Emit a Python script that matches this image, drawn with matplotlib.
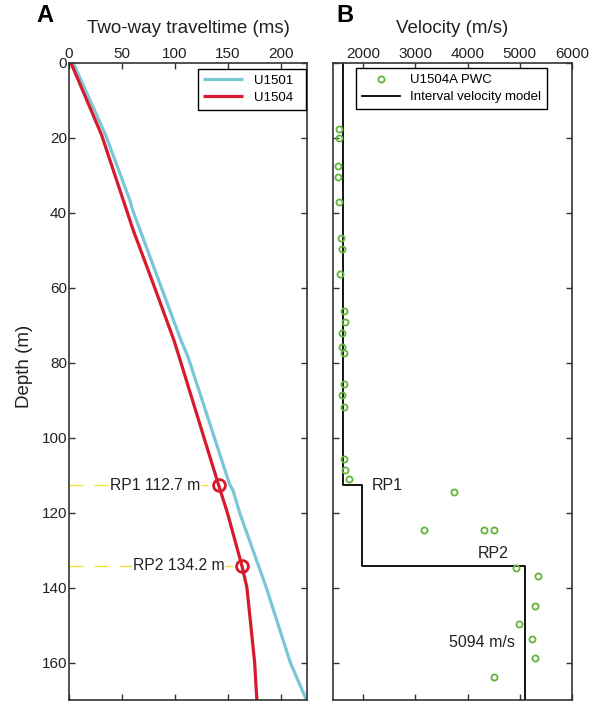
import matplotlib
matplotlib.use("Agg")
import matplotlib.pyplot as plt

plt.rcParams['font.family'] = ['Liberation Sans', 'DejaVu Sans']

# --- Two-way traveltime vs depth -------------------------------------------
u1501_depth = [0, 19.2, 36.6, 39.2, 73.9, 78.4, 112.5, 114.0, 120.0, 140.0, 160.0, 170.0]
u1501_twt = [4.0, 34.6, 57.5, 60.1, 105.7, 112.5, 151.9, 155.0, 161.3, 186.5, 209.2, 224.5]

u1504_depth = [0, 19.2, 44.6, 58.8, 73.9, 78.4, 112.7, 120.0, 134.2, 140.0, 160.0, 170.0]
u1504_twt = [1.9, 30.8, 60.7, 79.5, 99.1, 104.1, 141.5, 149.7, 163.5, 168.2, 175.5, 177.6]

# Reflection points
rp_names = ["RP1", "RP2"]
rp_depth = [112.7, 134.2]
rp_twt = [141.5, 163.5]
rp_label_twt = [38.7, 60.1]

# --- Velocity ----------------------------------------------------------------
pwc_depth = [17.5, 20.0, 27.4, 30.4, 37.0, 46.6, 49.6, 56.2, 66.2, 69.1, 72.0, 75.8,
             77.3, 85.7, 88.6, 91.8, 105.6, 108.5, 111.1, 114.5, 124.7, 124.7, 124.7,
             134.7, 136.9, 145.0, 149.8, 153.6, 158.8, 163.8]
pwc_vel = [1540, 1540, 1521, 1521, 1540, 1578, 1603, 1559, 1630, 1655, 1603, 1603,
           1630, 1630, 1603, 1630, 1630, 1655, 1725, 3735, 3167, 4315, 4501,
           4937, 5348, 5300, 4981, 5234, 5300, 4501]

layer_top = [0, 112.7, 134.2]
layer_bottom = [112.7, 134.2, 170]
layer_vel = [1622, 1975, 5094]

twt_ticks = [0, 50, 100, 150, 200]
vel_ticks = [2000, 3000, 4000, 5000, 6000]
depth_ticks = [0, 20, 40, 60, 80, 100, 120, 140, 160]

cyan = "#79c7d6"
red = "#d71a2c"
green = "#62b43a"
yellow = "#f0e43c"
spine_c = "#333333"
text_c = "#222222"

fig = plt.figure(figsize=(5.9, 7.02), dpi=100)
axA = fig.add_axes([69 / 590, 1 - 700 / 702, 238 / 590, 637 / 702])
axB = fig.add_axes([333 / 590, 1 - 700 / 702, 239 / 590, 637 / 702])


def style(ax):
    for s in ax.spines.values():
        s.set_color(spine_c)
        s.set_linewidth(1.2)
    ax.tick_params(direction='in', length=4.5, width=1, color=spine_c,
                   top=True, bottom=True, left=True, right=True,
                   labeltop=True, labelbottom=False, labelsize=11, pad=1.5,
                   labelcolor=text_c)
    ax.set_ylim(170, 0)
    ax.set_yticks(depth_ticks)
    ax.xaxis.set_label_position('top')


# Panel A
style(axA)
axA.plot(u1501_twt, u1501_depth, color=cyan, lw=2.3, label="U1501  ", solid_capstyle='butt')
axA.plot(u1504_twt, u1504_depth, color=red, lw=2.3, label="U1504  ", solid_capstyle='butt')
for name, d, t, tx in zip(rp_names, rp_depth, rp_twt, rp_label_twt):
    axA.plot([0, t], [d, d], color=yellow, lw=1.0, dashes=(10, 8), zorder=1)
    axA.text(tx, d, f"{name} {d} m", ha='left', va='center', fontsize=11.3,
             color=text_c, zorder=2,
             bbox=dict(facecolor='white', edgecolor='none', pad=0.3))
    axA.plot(t, d, 'o', ms=8.5, mfc='none', mec=red, mew=2.0, zorder=4)
axA.set_xlim(0, 225)
axA.set_xticks(twt_ticks)
axA.set_xlabel("Two-way traveltime (ms)", fontsize=13.5, labelpad=10, color=text_c)
axA.set_ylabel("Depth (m)", fontsize=13.5, color=text_c)
axA.yaxis.set_label_coords(-0.151, 0.523)
legA = axA.legend(loc='upper right', bbox_to_anchor=(0.996, 0.991), borderaxespad=0,
                  fontsize=9.5, handlelength=3.0, fancybox=False, framealpha=1,
                  edgecolor='black', borderpad=0.45, labelspacing=0.35)
legA.get_frame().set_linewidth(1.0)

# Panel B
style(axB)
axB.plot(pwc_vel, pwc_depth, 'o', ms=4.4, mfc='none', mec=green, mew=1.3,
         label="U1504A PWC", zorder=3)
model_x, model_y = [], []
for top, bot, v in zip(layer_top, layer_bottom, layer_vel):
    model_x += [v, v]
    model_y += [top, bot]
axB.plot(model_x, model_y, color='black', lw=1.3, label="Interval velocity model", zorder=2)
axB.text(layer_vel[1] + 190, rp_depth[0], rp_names[0], ha='left', va='center',
         fontsize=11.5, color=text_c)
axB.text(4190, rp_depth[1] - 3.3, rp_names[1], ha='left', va='center',
         fontsize=11.5, color=text_c)
axB.text(layer_vel[2] - 180, 154.6, f"{layer_vel[2]} m/s", ha='right', va='center',
         fontsize=11.5, color=text_c)
axB.set_xlim(1425, 6000)
axB.set_xticks(vel_ticks)
axB.set_yticklabels([])
axB.set_xlabel("Velocity (m/s)", fontsize=13.5, labelpad=10, color=text_c)
legB = axB.legend(loc='upper left', bbox_to_anchor=(0.095, 0.992), borderaxespad=0,
                  fontsize=9.5, handlelength=2.9, fancybox=False, framealpha=1,
                  edgecolor='black', borderpad=0.45, labelspacing=0.35)
legB.get_frame().set_linewidth(1.0)

fig.text(36 / 590, 1 - 16 / 702, "A", fontsize=17, fontweight='bold', va='center', ha='left')
fig.text(336 / 590, 1 - 16 / 702, "B", fontsize=17, fontweight='bold', va='center', ha='left')

fig.savefig("out.png", dpi=100)
